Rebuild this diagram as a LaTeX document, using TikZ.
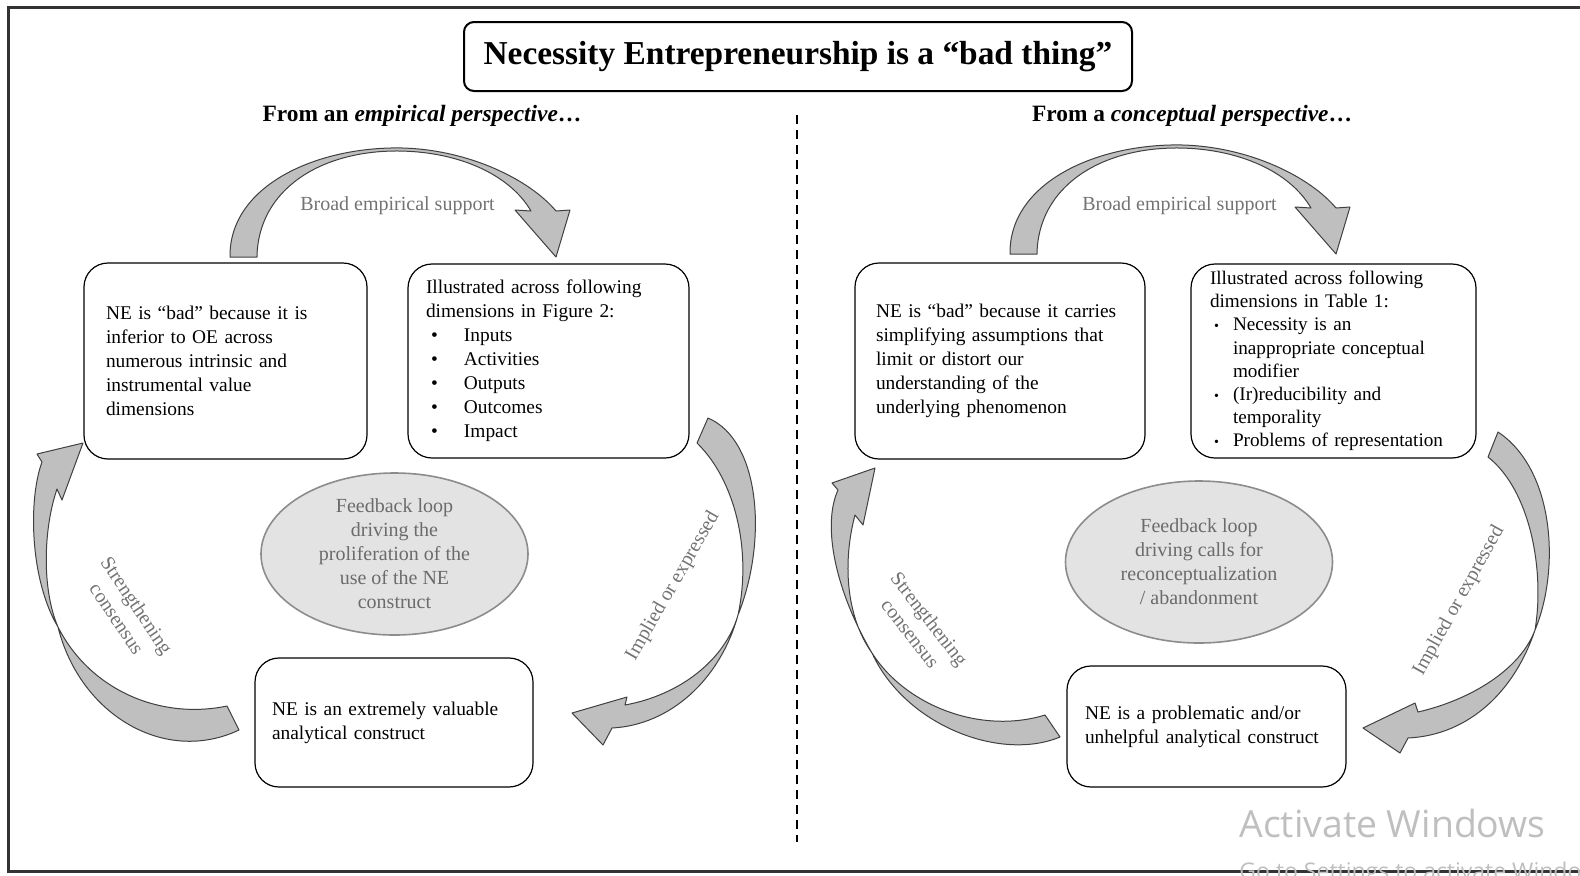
\documentclass[tikz,border=0pt]{standalone}
\usepackage{fontspec}
\setmainfont{Liberation Serif}
\newfontfamily\winfont{Open Sans}
\usepackage{tikz}
\usetikzlibrary{shapes.geometric}

% bullets for the two dimension lists
\newcommand{\Lbul}{\makebox[19pt][l]{\hspace{2.5pt}\textbullet}}
\newcommand{\Rbul}{\makebox[11.5pt][l]{\hspace{2pt}{\scriptsize\textbullet}}}

\begin{document}
\begin{tikzpicture}[
  x=0.5pt, y=-0.5pt,
  claim/.style={draw, line width=0.6pt, rounded corners=12pt, inner sep=0pt,
                align=left, font=\fontsize{9.7}{12}\selectfont},
  fbloop/.style={ellipse, draw=black!45, line width=0.8pt, fill=black!11,
                 inner sep=0pt, minimum width=133.5pt, minimum height=81pt,
                 align=center, text=black!58, font=\fontsize{10}{12}\selectfont},
  flowlbl/.style={align=center, text=black!55, font=\fontsize{10}{12}\selectfont},
  persp/.style={font=\fontsize{11.7}{14}\selectfont\bfseries},
  bandarrow/.style={fill=black!25, draw=black!75, line width=0.5pt, line join=round},
  divider/.style={line width=1pt, dash pattern=on 4.5pt off 3pt},
  wmark/.style={anchor=base west, inner sep=0pt, text=black!25},
]
\useasboundingbox (0,0) rectangle (1580,875);

% ---- outer frame ----
\draw[line width=1.5pt, black!80] (1590,7) -- (8,7) -- (8,871) -- (1590,871);

% ---- title and column heads ----
\node[draw, line width=1pt, rounded corners=5pt, minimum width=334pt, minimum height=34.5pt,
      font=\fontsize{16.7}{20}\selectfont\bfseries] (T) at (798,56.5)
      {Necessity Entrepreneurship is a “bad thing”};
\node[persp] (PL) at (422,116) {From an \textit{empirical perspective}…};
\node[persp] (PR) at (1192,116) {From a \textit{conceptual perspective}…};

\coordinate (D1) at (797,115);
\coordinate (D2) at (797,842);
\draw[divider] (D1) -- (D2);

% ---- empirical side ----
\node[claim, minimum width=141.5pt, minimum height=98pt, text width=119.5pt] (L1) at (225.5,361)
  {NE is “bad” because it is\\inferior to OE across\\numerous intrinsic and\\instrumental value\\dimensions};
\node[claim, minimum width=140.5pt, minimum height=97pt, text width=122.5pt] (L2) at (548.5,361)
  {Illustrated across following\\dimensions in Figure 2:\\\Lbul Inputs\\\Lbul Activities\\\Lbul Outputs\\\Lbul Outcomes\\\Lbul Impact};
\node[claim, minimum width=139pt, minimum height=64.5pt, text width=122pt] (L3) at (394,722.5)
  {NE is an extremely valuable\\analytical construct};
\node[fbloop] (FL) at (394.5,554)
  {Feedback loop\\driving the\\proliferation of the\\use of the NE\\construct};

% ---- conceptual side ----
\node[claim, minimum width=145pt, minimum height=98pt, text width=124pt] (R1) at (1000,361)
  {NE is “bad” because it carries\\simplifying assumptions that\\limit or distort our\\understanding of the\\underlying phenomenon};
\node[claim, minimum width=142.5pt, minimum height=97pt, text width=123.5pt,
      font=\fontsize{9.6}{11.6}\selectfont] (R2) at (1333.5,361)
  {Illustrated across following\\dimensions in Table 1:\\\Rbul Necessity is an\\\hspace*{11.5pt}inappropriate conceptual\\\hspace*{11.5pt}modifier\\\Rbul (Ir)reducibility and\\\hspace*{11.5pt}temporality\\\Rbul Problems of representation};
\node[claim, minimum width=139.5pt, minimum height=60.5pt, text width=121.5pt] (R3) at (1206.5,726.5)
  {NE is a problematic and/or\\unhelpful analytical construct};
\node[fbloop] (FR) at (1199,562)
  {Feedback loop\\driving calls for\\reconceptualization\\/ abandonment};

% ---- curved block arrows ----
\draw[bandarrow] (230,257) .. controls (229,185) and (318,146) .. (403,148)
  .. controls (470,150) and (530,180) .. (556,211) -- (570,210) -- (556,257)
  -- (515,210) -- (531,211) .. controls (510,175) and (460,152) .. (400,151)
  .. controls (320,150) and (258,190) .. (257,257) -- cycle;
\begin{scope}[shift={(780,-3)}]
\draw[bandarrow] (230,257) .. controls (229,185) and (318,146) .. (403,148)
  .. controls (470,150) and (530,180) .. (556,211) -- (570,210) -- (556,257)
  -- (515,210) -- (531,211) .. controls (510,175) and (460,152) .. (400,151)
  .. controls (320,150) and (258,190) .. (257,257) -- cycle;
\end{scope}

\draw[bandarrow] (708,418) .. controls (760,440) and (768,540) .. (738,615)
  .. controls (720,680) and (670,725) .. (612,728) -- (603,745) -- (572,713)
  -- (627,697) -- (625,705) .. controls (680,695) and (725,660) .. (738,615)
  .. controls (752,550) and (735,480) .. (697,443) -- cycle;
\draw[bandarrow] (1498,432) .. controls (1555,470) and (1560,570) .. (1535,630)
  .. controls (1515,690) and (1470,735) .. (1408,738) -- (1400,753) -- (1363,728)
  -- (1415,703) -- (1418,712) .. controls (1470,700) and (1520,670) .. (1535,630)
  .. controls (1545,570) and (1530,490) .. (1488,457) -- cycle;

\draw[bandarrow] (227,706) -- (239,730) .. controls (165,765) and (80,715) .. (58,627)
  .. controls (30,580) and (28,500) .. (42,462) -- (37,454) -- (83,443)
  -- (62,500) -- (57,489) .. controls (43,530) and (42,590) .. (58,627)
  .. controls (90,690) and (160,720) .. (227,706) -- cycle;
\draw[bandarrow] (1045,715) -- (1060,737) .. controls (1000,762) and (905,725) .. (872,653)
  .. controls (835,590) and (822,525) .. (838,490) -- (832,483) -- (875,468)
  -- (863,525) -- (855,515) .. controls (843,560) and (845,615) .. (872,653)
  .. controls (905,705) and (980,735) .. (1045,715) -- cycle;

% ---- arrow labels ----
\node[flowlbl] (bL) at (397.5,206) {Broad empirical support};
\node[flowlbl] (bR) at (1179.5,206) {Broad empirical support};
\node[flowlbl, rotate=60] (iL) at (673,586) {Implied or expressed};
\node[flowlbl, rotate=61] (iR) at (1459,601) {Implied or expressed};
\node[flowlbl, rotate=-56] (sL) at (127,612) {Strengthening\\consensus};
\node[flowlbl, rotate=-52] (sR) at (920,626) {Strengthening\\consensus};

% ---- overlay text ----
\node[wmark, font=\winfont\fontsize{18.7}{22}\selectfont] (wm1) at (1239,837) {Activate Windows};
\node[wmark, font=\winfont\fontsize{11.5}{14}\selectfont] (wm2) at (1239,879) {Go to Settings to activate Windows.};

\end{tikzpicture}
\end{document}
